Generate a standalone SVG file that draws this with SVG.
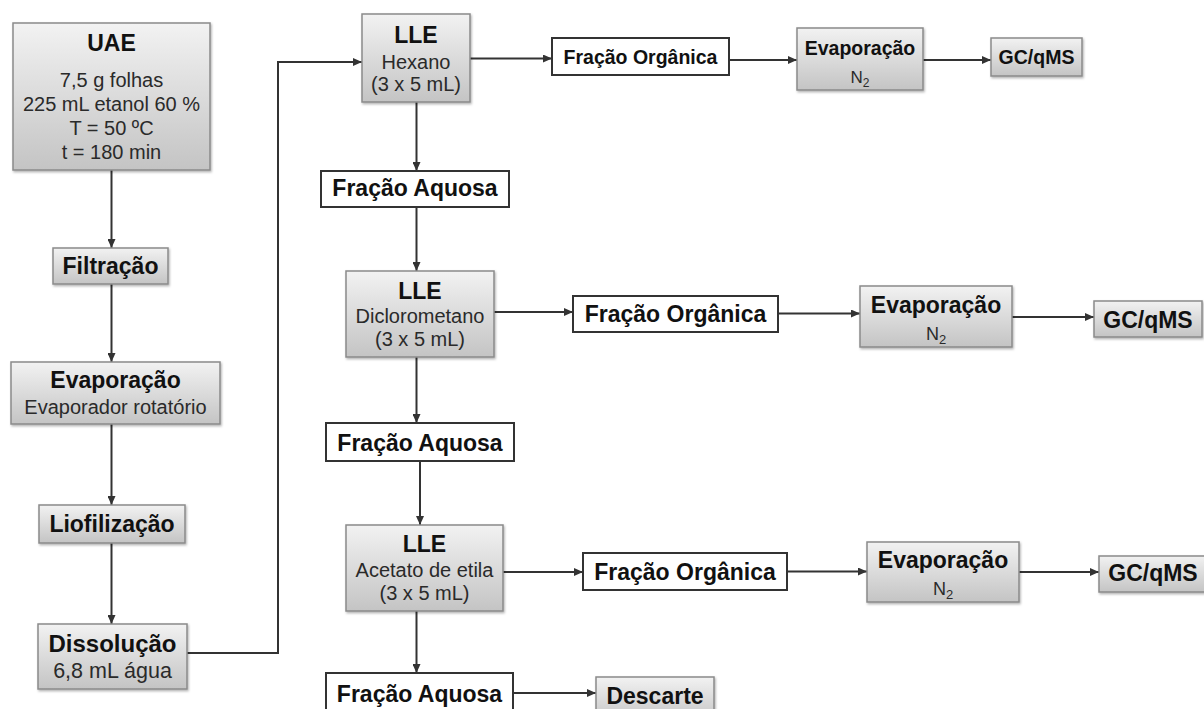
<svg xmlns="http://www.w3.org/2000/svg" width="1204" height="709" viewBox="0 0 1204 709">
<defs>
<linearGradient id="g" x1="0" y1="0" x2="0" y2="1">
<stop offset="0" stop-color="#f2f2f2"/>
<stop offset="1" stop-color="#c4c4c4"/>
</linearGradient>
<filter id="sh" x="-10%" y="-10%" width="125%" height="130%">
<feDropShadow dx="1" dy="1.5" stdDeviation="1" flood-color="#000" flood-opacity="0.3"/>
</filter>
<marker id="ah" markerUnits="userSpaceOnUse" markerWidth="9" markerHeight="8" refX="9" refY="4" orient="auto">
<path d="M0,0 L9,4 L0,8 z" fill="#333"/>
</marker>
</defs>
<style>
.gb{fill:url(#g);stroke:#8a8a8a;stroke-width:1.5;filter:url(#sh)}
.wb{fill:#fff;stroke:#333;stroke-width:2}
.t{font-family:"Liberation Sans",Arial,sans-serif;font-weight:bold;font-size:23px;fill:#111;text-anchor:middle}
.s{font-family:"Liberation Sans",Arial,sans-serif;font-size:20px;fill:#2a2a2a;text-anchor:middle}
.r1{font-size:19.5px}
.c{fill:none;stroke:#333;stroke-width:2;marker-end:url(#ah)}
.cn{fill:none;stroke:#333;stroke-width:2}
</style>
<rect width="1204" height="709" fill="#fff"/>
<g id="connectors">
<path class="c" d="M111.5,170 V248"/>
<path class="c" d="M111.5,284 V362"/>
<path class="c" d="M111.5,424 V505"/>
<path class="c" d="M111.5,543 V624"/>
<path class="c" d="M187,653 H278 V62 H362"/>
<path class="c" d="M416.5,102 V171"/>
<path class="c" d="M470,58.5 H552"/>
<path class="c" d="M729,60 H797"/>
<path class="c" d="M923,60 H991"/>
<path class="c" d="M416.5,207 V271"/>
<path class="c" d="M494,312 H573"/>
<path class="c" d="M778,313.5 H860"/>
<path class="c" d="M1012,317 H1094"/>
<path class="c" d="M416.5,357 V423"/>
<path class="c" d="M420,461 V525"/>
<path class="c" d="M503,572 H583"/>
<path class="c" d="M787,571.5 H867"/>
<path class="c" d="M1019,572 H1099"/>
<path class="c" d="M416.5,611 V673"/>
<path class="c" d="M513,693 H596"/>
</g>
<g id="uae">
<rect class="gb" x="13" y="23" width="197" height="147"/>
<text class="t" x="111.5" y="51">UAE</text>
<text class="s" x="111.5" y="87">7,5 g folhas</text>
<text class="s" x="111.5" y="111">225 mL etanol 60 %</text>
<text class="s" x="111.5" y="135">T = 50 ºC</text>
<text class="s" x="111.5" y="159">t = 180 min</text>
</g>
<g id="filtracao">
<rect class="gb" x="53" y="248" width="115" height="36"/>
<text class="t" x="110.5" y="274">Filtração</text>
</g>
<g id="evaporacao">
<rect class="gb" x="11" y="362" width="209" height="62"/>
<text class="t" x="115.5" y="388">Evaporação</text>
<text class="s" x="115.5" y="414">Evaporador rotatório</text>
</g>
<g id="liofilizacao">
<rect class="gb" x="39" y="505" width="146" height="38"/>
<text class="t" x="112" y="532">Liofilização</text>
</g>
<g id="dissolucao">
<rect class="gb" x="38" y="624" width="149" height="65"/>
<text class="t" x="112.5" y="652" style="font-size:24px">Dissolução</text>
<text class="s" x="112.5" y="678" style="font-size:21.5px">6,8 mL água</text>
</g>
<g id="lle-hexano">
<rect class="gb" x="362" y="14" width="108" height="88"/>
<text class="t" x="416" y="43">LLE</text>
<text class="s" x="416" y="69">Hexano</text>
<text class="s" x="416" y="91">(3 x 5 mL)</text>
</g>
<g id="fa1">
<rect class="wb" x="321" y="171" width="188" height="36"/>
<text class="t" x="415" y="196">Fração Aquosa</text>
</g>
<g id="fo1">
<rect class="wb" x="552" y="38" width="177" height="37"/>
<text class="t r1" x="640.5" y="64">Fração Orgânica</text>
</g>
<g id="evap1">
<rect class="gb" x="797" y="28" width="126" height="62"/>
<text class="t r1" x="860" y="55">Evaporação</text>
<text class="s" x="860" y="83" style="font-size:17px">N<tspan dy="4" style="font-size:12px">2</tspan></text>
</g>
<g id="gc1">
<rect class="gb" x="991" y="38" width="91" height="38"/>
<text class="t r1" x="1036.5" y="64">GC/qMS</text>
</g>
<g id="lle-dcm">
<rect class="gb" x="346" y="271" width="148" height="86"/>
<text class="t" x="420" y="299">LLE</text>
<text class="s" x="420" y="323">Diclorometano</text>
<text class="s" x="420" y="346">(3 x 5 mL)</text>
</g>
<g id="fo2">
<rect class="wb" x="573" y="296" width="205" height="36"/>
<text class="t" x="675.5" y="322">Fração Orgânica</text>
</g>
<g id="evap2">
<rect class="gb" x="860" y="286" width="152" height="61"/>
<text class="t" x="936" y="313">Evaporação</text>
<text class="s" x="936" y="340" style="font-size:18px">N<tspan dy="4" style="font-size:13px">2</tspan></text>
</g>
<g id="gc2">
<rect class="gb" x="1094" y="301" width="108" height="36"/>
<text class="t" x="1148" y="328">GC/qMS</text>
</g>
<g id="fa2">
<rect class="wb" x="326" y="423" width="188" height="38"/>
<text class="t" x="420" y="450.5">Fração Aquosa</text>
</g>
<g id="lle-ae">
<rect class="gb" x="346" y="525" width="157" height="86"/>
<text class="t" x="424.5" y="551.5">LLE</text>
<text class="s" x="424.5" y="576.5">Acetato de etila</text>
<text class="s" x="424.5" y="600">(3 x 5 mL)</text>
</g>
<g id="fo3">
<rect class="wb" x="583" y="553" width="204" height="37"/>
<text class="t" x="685" y="580">Fração Orgânica</text>
</g>
<g id="evap3">
<rect class="gb" x="867" y="542" width="152" height="60"/>
<text class="t" x="943" y="568">Evaporação</text>
<text class="s" x="943" y="595" style="font-size:18px">N<tspan dy="4" style="font-size:13px">2</tspan></text>
</g>
<g id="gc3">
<rect class="gb" x="1099" y="556" width="108" height="36"/>
<text class="t" x="1153" y="581">GC/qMS</text>
</g>
<g id="fa3">
<rect class="wb" x="326" y="673" width="187" height="50"/>
<text class="t" x="419.5" y="702">Fração Aquosa</text>
</g>
<g id="descarte">
<rect class="gb" x="596" y="677" width="118" height="45"/>
<text class="t" x="655" y="704">Descarte</text>
</g>
</svg>
